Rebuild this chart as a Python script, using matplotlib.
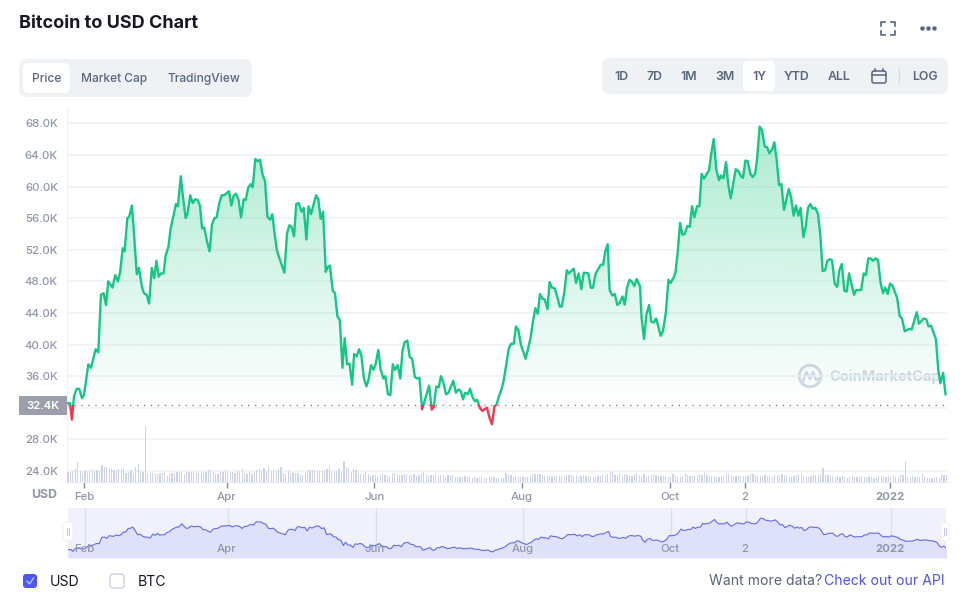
import numpy as np
import matplotlib
matplotlib.use('Agg')
import matplotlib.pyplot as plt
from matplotlib.patches import FancyBboxPatch, Rectangle, Circle

plt.rcParams['font.family'] = ['Inter', 'DejaVu Sans']

# Datos: dias desde el 1 de febrero y precio en miles de USD
days_a = [-6.9, -5.8, -5, -4.1, -3, -2, -0.8, 0, 1.8, 2.9, 4.8, 5.9, 7, 8.1, 9.1, 10, 11.8, 12.9, 14, 14.9, 16, 16.8, 17.9, 18.7, 19.8, 20.7, 21.8, 22.7, 24, 24.8, 25.9, 26.9, 28, 29, 29.9, 30.9, 31.8, 32.9, 33.7, 34.9, 35.8, 36.9, 38, 38.8, 40, 40.9, 42, 42.8, 43.9, 44.9, 46, 47, 47.9, 48.8, 49.7, 50.8, 51.9, 52.9, 53.9, 54.8, 55.9, 56.9, 57.9, 59.9, 60.9, 61.8, 62.8, 63.9, 64.9, 66, 66.8, 67.9, 68.9, 69.7, 70.8, 71.8, 72.7, 73.8, 74.8, 75.8, 76.9, 77.8, 78.9, 79.8, 80.7, 82.8, 83.9, 84.9, 85.8, 86.8, 87.7, 88.7, 89.9, 90.8, 91.9, 92.8, 93.8, 95.9, 96.8, 97.8, 98.8, 99.9, 100.7, 101.6, 102.8, 103.7, 104.7, 105.7]
price_a = [32.55, 32.6, 30.5, 33.5, 34.4, 34.4, 33.2, 33.6, 37.5, 37.05, 39.4, 39.0, 46.3, 46.5, 45.0, 48.0, 47.2, 48.8, 48.0, 49.1, 52.2, 51.8, 56.0, 56.2, 57.6, 53.9, 48.9, 49.7, 47.2, 46.5, 46.3, 45.2, 49.7, 48.4, 50.6, 48.6, 49.0, 49.0, 51.2, 52.4, 54.7, 56.2, 57.8, 57.5, 61.3, 58.7, 56.0, 56.6, 58.9, 57.9, 58.4, 58.3, 57.6, 54.7, 54.8, 53.1, 51.8, 55.2, 56.0, 56.1, 57.9, 58.9, 58.9, 59.4, 57.6, 58.8, 59.1, 58.3, 56.1, 58.4, 58.3, 59.9, 60.3, 59.9, 63.5, 63.2, 63.4, 61.5, 60.7, 56.2, 55.8, 56.5, 53.7, 51.8, 51.0, 49.1, 54.1, 55.1, 54.9, 53.7, 57.8, 57.9, 56.8, 57.3, 53.3, 57.5, 56.5, 58.9, 58.4, 55.9, 56.8, 49.2, 49.8, 50.0, 46.8, 46.5, 43.6, 43.1]
days_b = [106.8, 107.7, 108.7, 109.7, 110.8, 111.6, 112.7, 113.65, 114.6, 115.7, 116.7, 117.6, 118.6, 119.6, 120.5, 121.6, 122.6, 123.7, 124.5, 125.6, 126.6, 127.6, 128.5, 129.6, 130.7, 131.6, 132.5, 133.6, 134.6, 135.6, 136.7, 137.6, 138.6, 139.7, 140.5, 142.6, 143.7, 144.5, 145.6, 146.6, 147.5, 148.5, 149.6, 150.6, 152.6, 153.7, 154.7, 155.7, 156.6, 157.5, 158.6, 159.5, 160.6, 161.6, 162.5, 163.7, 164.6, 166.5, 167.6, 168.6, 169.6, 170.5, 171.5, 172.5, 173.4, 174.4, 175.5, 176.5, 177.6, 178.5, 179.5, 180.6, 182.5, 184.5, 185.4, 186.5, 187.5, 188.4, 189.4, 190.4, 191.5, 192.4, 193.4, 194.5, 195.5, 196.6, 197.4, 198.5, 199.5, 200.3, 202.4, 203.3, 204.4, 205.5, 206.5, 208.4, 209.4, 210.3, 211.4, 213.5, 214.5, 215.4, 216.4, 217.2, 218.3, 219.3, 220.4, 221.4, 222.5, 223.4, 224.4, 225.4, 226.3, 227.4, 228.4, 229.4]
price_b = [37.05, 40.8, 37.5, 37.6, 34.9, 38.8, 38.5, 39.4, 38.6, 35.7, 34.7, 35.6, 37.4, 36.8, 37.5, 39.3, 36.8, 35.7, 36.0, 33.7, 33.6, 37.5, 36.8, 37.4, 35.7, 39.2, 40.3, 40.5, 38.4, 38.2, 35.9, 35.7, 35.8, 31.8, 32.6, 34.8, 31.75, 32.1, 34.7, 34.6, 36.0, 35.2, 33.7, 33.9, 35.4, 33.9, 34.3, 34.1, 33.05, 33.9, 33.7, 34.4, 33.3, 32.8, 33.0, 31.9, 31.6, 32.0, 30.7, 29.9, 32.2, 32.4, 33.5, 34.3, 35.4, 37.3, 39.5, 40.1, 40.1, 42.3, 41.8, 39.9, 38.2, 40.8, 42.7, 44.6, 43.9, 46.4, 45.8, 45.7, 44.5, 47.9, 47.2, 47.1, 46.1, 44.8, 44.8, 46.7, 49.4, 49.0, 49.6, 47.8, 49.0, 47.0, 49.1, 49.0, 47.2, 47.2, 49.0, 50.1, 50.1, 51.8, 52.7, 46.9, 46.2, 46.4, 45.0, 45.3, 46.1, 45.05, 47.2, 48.2, 48.0, 47.4, 48.3, 47.6]
days_c = [229.75, 230.4, 231.4, 232.4, 233.5, 234.4, 235.4, 236.4, 237.3, 238.3, 239.25, 240.4, 241.5, 242.4, 243.5, 244.35, 245.3, 246.3, 247.25, 248.2, 249.3, 250.3, 251.25, 252.2, 253.3, 254.3, 255.2, 256.2, 258.3, 259.2, 260.2, 261.3, 262.4, 263.2, 264.2, 265.3, 266.25, 267.2, 269.3, 270.25, 271.5, 272.3, 273.3, 274.25, 275.35, 276.3, 277.3, 278.1, 279.2, 280.2, 281.3, 282.2, 283.2, 284.3, 285.25, 286.2, 287.2, 288.15, 289.25, 291.2, 292.15, 293.25, 294.2, 295.2, 296.1, 297.25, 298.2, 299.2, 300.1, 301.1, 302.2, 303.3, 304.3, 305.2, 306.2, 307.15, 308.3, 309.1, 310.2, 311.2, 312.1, 313.1, 314.2, 315.15, 316.1, 317.2, 318.2, 319.1, 321.1, 322.2, 323.1, 324.1, 325.1, 326, 327.1, 328.1, 329.2, 330.2, 331.1, 332.1, 333.05, 334, 336, 337.05, 338, 339.1, 341.05, 342, 344.1, 345, 347, 348, 349, 350, 352, 353, 353.85, 355, 356]
price_c = [47.4, 43.4, 40.7, 43.8, 45.0, 42.9, 42.8, 43.3, 42.3, 41.1, 41.7, 44.0, 48.2, 47.8, 48.4, 49.05, 51.6, 55.4, 53.9, 54.0, 55.0, 54.9, 57.5, 56.1, 57.5, 57.5, 61.6, 61.0, 62.1, 64.2, 66.0, 62.1, 60.8, 61.4, 61.05, 63.1, 60.2, 58.5, 62.2, 62.0, 61.3, 61.1, 63.3, 63.2, 61.6, 61.2, 61.6, 63.4, 67.6, 67.1, 65.05, 65.0, 64.2, 64.7, 65.6, 63.4, 60.2, 60.3, 57.05, 59.7, 58.7, 56.3, 57.6, 56.3, 57.3, 53.6, 54.9, 57.3, 57.8, 57.2, 57.3, 56.5, 53.7, 49.3, 49.4, 50.6, 50.8, 50.65, 47.7, 47.3, 49.4, 50.2, 46.8, 46.7, 49.0, 47.6, 46.3, 46.9, 46.9, 49.0, 48.8, 50.9, 50.9, 50.6, 50.9, 50.7, 47.7, 46.5, 47.2, 46.4, 47.7, 47.5, 45.9, 43.6, 43.3, 41.7, 42.0, 41.9, 44.1, 42.65, 43.3, 43.2, 42.3, 42.4, 40.7, 36.8, 35.1, 36.4, 33.7]

# Volumen diario (estimado de las barras, en miles de millones de USD aprox.)
vol_a = [10, 10, 11, 13, 20, 11, 9, 11, 11, 11, 12, 10, 12, 11, 17, 15, 15, 14, 13, 12, 12, 13, 13, 14, 9, 10, 12, 9, 15, 18, 11, 10, 56, 8, 9, 9, 8, 8, 9, 9, 9, 6, 8, 9, 9, 10, 10, 11, 8, 11, 10, 10, 10, 9, 9, 9, 10, 10, 12, 12, 10, 8, 8, 10, 10, 11, 11, 10, 10, 9, 11, 11, 13, 9, 8, 10, 8, 9, 12, 13, 11, 14, 11, 16, 11, 12, 11, 13, 15, 9, 8, 11, 9, 9, 8, 9, 7, 7, 9, 12, 12, 12, 12, 11, 11, 12, 11, 13, 16, 10, 10, 11, 13, 10, 21, 15, 14, 10, 13, 12, 9, 8]
vol_b = [8, 10, 8, 6, 7, 7, 6, 7, 8, 7, 6, 6, 9, 9, 8, 7, 7, 8, 8, 7, 7, 8, 6, 7, 9, 10, 8, 6, 7, 7, 7, 6, 7, 7, 5, 7, 7, 7, 5, 5, 5, 5, 6, 5, 5, 4, 5, 4, 4, 5, 4, 4, 5, 5, 5, 4, 5, 4, 4, 9, 7, 7, 5, 6, 5, 5, 5, 5, 5, 6, 8, 8, 8, 8, 7, 6, 6, 6, 6, 6, 6, 6, 6, 6, 7, 7, 7, 6, 7, 5, 6, 7, 6, 6, 6, 5, 5, 6, 6, 7, 7, 8, 11, 10, 7, 7, 8, 6, 8, 7, 6, 6, 8, 9, 7, 6, 8, 6, 6, 7]
vol_c = [8, 7, 6, 6, 6, 6, 5, 5, 8, 6, 5, 5, 6, 9, 7, 6, 6, 7, 7, 8, 7, 9, 7, 6, 6, 6, 5, 5, 6, 6, 8, 8, 7, 6, 6, 7, 6, 6, 6, 6, 8, 8, 7, 6, 6, 6, 7, 6, 6, 5, 7, 7, 7, 8, 7, 6, 5, 5, 6, 7, 7, 8, 6, 6, 5, 6, 7, 7, 6, 8, 14, 7, 7, 6, 6, 5, 6, 5, 6, 5, 4, 5, 6, 5, 5, 5, 6, 5, 5, 5, 5, 4, 4, 6, 6, 6, 5, 6, 5, 7, 5, 5, 8, 7, 21, 5, 4, 6, 5, 6, 5, 8, 5, 4, 4, 4, 5, 5, 4, 8, 7, 7]

tick_days = [0, 59, 120, 181, 242, 273, 333]
tick_labels = ['Feb', 'Apr', 'Jun', 'Aug', 'Oct', '2', '2022']
y_ticks = [68, 64, 60, 56, 52, 48, 44, 40, 36, 32, 28, 24]
base_price = 32.4

days = np.array(days_a + days_b + days_c)
prices = np.array(price_a + price_b + price_c)
volumes = np.array(vol_a + vol_b + vol_c)

W, H = 970, 612
GREEN = '#16c784'
RED = '#f0384f'
GRID = '#eff2f5'
TEXT = '#58667e'
MUTED = '#8f97a8'
BLUE = '#4f55f1'


def box(l, t, r, b):
    # caja en pixeles de la imagen -> coordenadas de figura
    return [l / W, 1 - b / H, (r - l) / W, (b - t) / H]


fig = plt.figure(figsize=(W / 100, H / 100), dpi=100, facecolor='white')

# Capa de interfaz en pixeles
ui = fig.add_axes([0, 0, 1, 1], zorder=0)
ui.set_xlim(0, W)
ui.set_ylim(H, 0)
ui.axis('off')


def rrect(axis, l, t, r, b, rad, color, **kw):
    axis.add_patch(FancyBboxPatch((l + rad, t + rad), r - l - 2 * rad, b - t - 2 * rad,
                                  boxstyle=f'round,pad={rad}', fc=color, ec=kw.pop('ec', 'none'), **kw))


ui.text(19, 24, 'Bitcoin to USD Chart', fontsize=13, fontweight='bold', color='#171924', va='center')

# Pestanas
rrect(ui, 19, 59, 252, 97, 8, GRID)
rrect(ui, 23, 63, 70, 93, 6, 'white')
for label, cx in [('Price', 46.5), ('Market Cap', 114.5), ('TradingView', 203.5)]:
    ui.text(cx, 79, label, fontsize=8.6, fontweight='medium', color=TEXT, ha='center', va='center')

rrect(ui, 602, 58, 948, 94, 8, GRID)
rrect(ui, 743, 61, 775, 91, 6, 'white')
for label, cx in [('1D', 621.5), ('7D', 654.5), ('1M', 689), ('3M', 724.5), ('1Y', 759), ('YTD', 797), ('ALL', 839), ('LOG', 925)]:
    ui.text(cx, 77, label, fontsize=8.9, fontweight='semibold', color=TEXT, ha='center', va='center')
ui.plot([899.5, 899.5], [69, 82], color='#d3d8e2', lw=0.9)

# Calendario
rrect(ui, 872, 71, 886, 83, 2, 'none', ec=TEXT, lw=1.1)
ui.plot([872, 886], [75, 75], color=TEXT, lw=1.1)
ui.plot([875, 875], [68.5, 71], color=TEXT, lw=1.1)
ui.plot([883, 883], [68.5, 71], color=TEXT, lw=1.1)

# Iconos de arriba
for sx, x0 in [(1, 881), (-1, 895)]:
    for sy, y0 in [(1, 22), (-1, 35)]:
        ui.plot([x0 + sx * 4, x0, x0], [y0, y0, y0 + sy * 4], color=TEXT, lw=1.2)
ui.plot([922, 928, 934], [28, 28, 28], 'o', ms=2.2, color=TEXT)

# Marca de agua, debajo de la linea de precio
wm = '#d3d8e6'
ui.add_patch(Circle((810, 376), 10.8, fc='none', ec=wm, lw=2))
ui.plot([803, 806.5, 810, 813, 816, 820], [381, 372, 379, 372, 380, 378], color=wm, lw=1.8)
ui.text(829, 377, 'CoinMarketCap', fontsize=10.5, fontweight='bold', color=wm, va='center')

# Grafico principal
ax = fig.add_axes(box(67, 108, 947, 482), zorder=1)
ax.patch.set_alpha(0)
ax.set_xlim(-7.02, 356.6)
ax.set_ylim(22.6, 69.94)
for side in ['top', 'right']:
    ax.spines[side].set_visible(False)
ax.spines['left'].set_color(GRID)
ax.spines['bottom'].set_color('#e6e9f0')
ax.set_yticks(y_ticks)
# la etiqueta 32.0K queda tapada por la del ultimo precio
ax.set_yticklabels(['' if v == 32 else f'{v:.1f}K' for v in y_ticks], fontsize=8.2, color=MUTED, fontweight='medium')
ax.tick_params(axis='y', length=0, pad=6.5)
ax.grid(axis='y', color=GRID, lw=1.1)
ax.set_axisbelow(True)
ax.set_xticks(tick_days)
ax.set_xticklabels(tick_labels, fontsize=8.2, color=MUTED, fontweight='medium')
ax.tick_params(axis='x', length=4, width=1, color='#7f889c', pad=3)
ax.get_xticklabels()[-1].set_fontweight('bold')

# Relleno con degradado por encima del precio base
poly = ax.fill_between(days, np.maximum(prices, base_price), base_price, color='none', lw=0)
grad = np.zeros((256, 1, 4))
grad[..., :3] = matplotlib.colors.to_rgb(GREEN)
grad[..., 3] = np.linspace(0.36, 0.0, 256)[:, None]
im = ax.imshow(grad, extent=[days[0], days[-1], base_price, prices.max()], aspect='auto', origin='upper', zorder=1.5)
im.set_clip_path(poly.get_paths()[0], transform=ax.transData)
ax.set_xlim(-7.02, 356.6)
ax.set_ylim(22.6, 69.94)

ax.axhline(base_price, color='#7d8494', lw=1, dashes=(1, 4), zorder=2)

up, = ax.plot(days, prices, color=GREEN, lw=1.7, zorder=3, solid_joinstyle='round')
down, = ax.plot(days, prices, color=RED, lw=1.7, zorder=3, solid_joinstyle='round')
up.set_clip_path(Rectangle((-10, base_price), 380, 50, transform=ax.transData))
down.set_clip_path(Rectangle((-10, 20), 380, base_price - 20, transform=ax.transData))

# Volumen
vol_ax = ax.twinx()
vol_ax.set_ylim(0, 374)
vol_ax.axis('off')
vol_ax.bar(np.arange(len(volumes)) - 6.6, volumes, width=0.5, color='#cdd4e4', lw=0)

# Capa superior
ui_top = fig.add_axes([0, 0, 1, 1], zorder=2)
ui_top.set_xlim(0, W)
ui_top.set_ylim(H, 0)
ui_top.axis('off')

# Etiqueta del ultimo precio
ui_top.add_patch(Rectangle((19, 396), 48, 19, fc='#9a9fab', ec='none'))
ui_top.text(43, 406, '32.4K', fontsize=8.2, fontweight='semibold', color='white', ha='center', va='center')
ui_top.text(44, 494.5, 'USD', fontsize=8.9, fontweight='bold', color=MUTED, ha='center', va='center')

# Navegador
nav = fig.add_axes(box(68, 508, 946, 558), zorder=1)
nav.set_facecolor('#f0f1fd')
nav.set_xlim(-7.0, 355.8)
nav.set_ylim(23.2, 78.8)
nav.set_xticks([])
nav.set_yticks([])
for s in nav.spines.values():
    s.set_visible(False)
for d, label in zip(tick_days, tick_labels):
    nav.axvline(d + 0.2, color='#dcdef3', lw=1, zorder=1)
    nav.text(d - 0.3, 33.4, label, fontsize=8.2, color=MUTED, ha='center', va='center', zorder=4,
             fontweight='bold' if label == '2022' else 'medium')
nav.fill_between(days, prices, 23.2, color='#dfe0fa', lw=0, zorder=2)
nav.plot(days, prices, color='#6069ee', lw=0.8, zorder=3)

rrect(ui_top, 63, 522, 73, 541, 4, 'white', ec='#eceef5', lw=0.6)
rrect(ui_top, 941, 523, 949, 541, 4, 'white', ec='#eceef5', lw=0.6)
for hx in [(67, 69), (944.5, 946.5)]:
    for x in hx:
        ui_top.plot([x, x], [528, 535], color='#c5c9d6', lw=0.8)

# Leyenda inferior
rrect(ui_top, 110, 574, 124, 588, 3, 'white', ec='#ccd2e3', lw=1)
rrect(ui_top, 23, 574, 37, 588, 3, BLUE)
ui_top.plot([27, 29.5, 33.5], [581, 584, 578], color='#c8cbfa', lw=0.9)
ui_top.text(50, 582, 'USD', fontsize=10.2, color='#171924', va='center')
ui_top.text(138, 582, 'BTC', fontsize=10.2, color='#171924', va='center')
ui_top.text(822, 581, 'Want more data?', fontsize=10.1, color=TEXT, ha='right', va='center')
ui_top.text(945, 581, 'Check out our API', fontsize=10.1, color=BLUE, ha='right', va='center')

fig.savefig('out.png', dpi=100)
